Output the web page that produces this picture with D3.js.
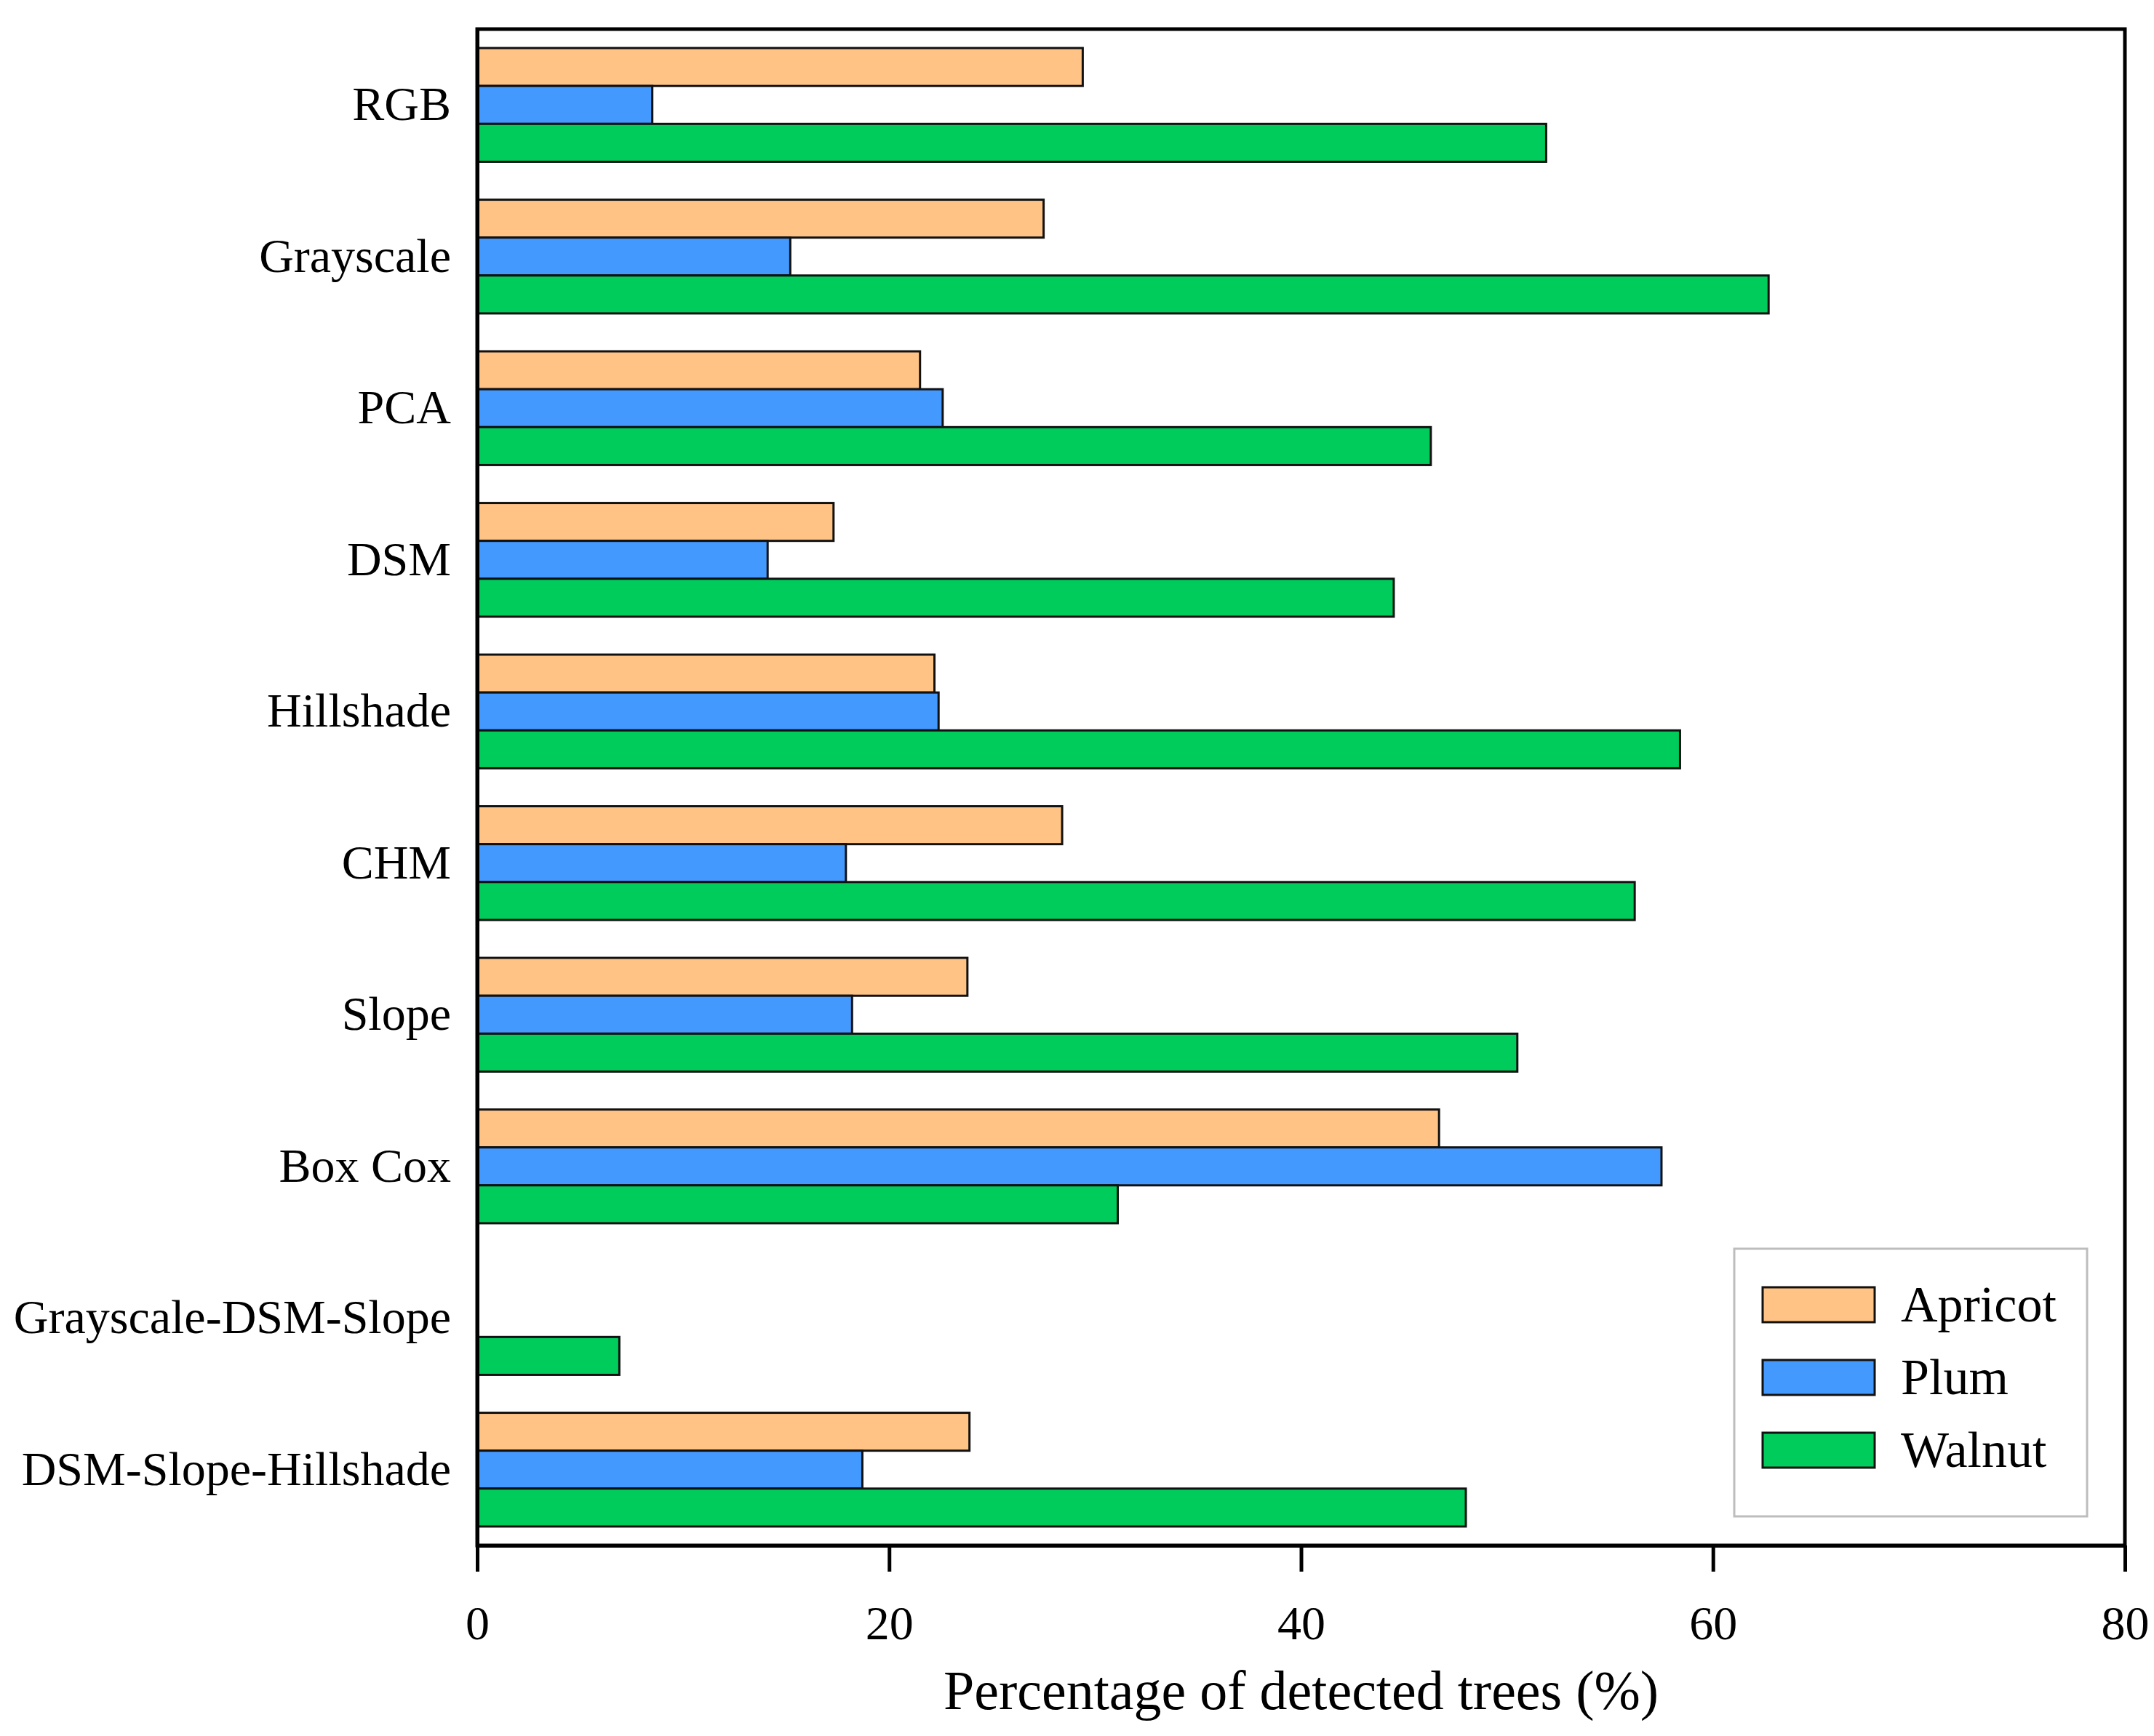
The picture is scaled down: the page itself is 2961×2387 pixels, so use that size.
<!DOCTYPE html>
<html>
<head>
<meta charset="utf-8">
<script src="https://cdn.jsdelivr.net/npm/d3@7"></script>
<style>
  body { margin: 0; background: #fff; }
  svg { display: block; font-family: "Liberation Serif", "DejaVu Serif", serif; }
</style>
</head>
<body>
<svg id="chart" width="2961" height="2387"></svg>
<script>
// data
const categories = ["RGB", "Grayscale", "PCA", "DSM", "Hillshade", "CHM", "Slope", "Box Cox", "Grayscale-DSM-Slope", "DSM-Slope-Hillshade"]
const seriesNames = ["Apricot", "Plum", "Walnut"]
const apricot = [29.4, 27.5, 21.5, 17.3, 22.2, 28.4, 23.8, 46.7, 0, 23.9]
const plum = [8.5, 15.2, 22.6, 14.1, 22.4, 17.9, 18.2, 57.5, 0, 18.7]
const walnut = [51.9, 62.7, 46.3, 44.5, 58.4, 56.2, 50.5, 31.1, 6.9, 48.0]
const xTicks = [0, 20, 40, 60, 80]
const colors = ["#ffc385", "#4499ff", "#00cc5c"]

const series = [apricot, plum, walnut]

let svg = d3.select("#chart")
const plotLeft = 656, plotRight = 2921, plotTop = 40, plotBottom = 2125

let x = d3.scaleLinear().domain([0, 80]).range([plotLeft, plotRight])
let y = d3.scaleBand().domain(categories).range([plotTop, plotBottom])
  .paddingInner(0.25).paddingOuter(0.125)
let ySub = d3.scaleBand().domain(seriesNames).range([0, y.bandwidth()])

// bars
let rows = []
categories.forEach((c, i) => {
  seriesNames.forEach((s, j) => {
    if (series[j][i] > 0) rows.push({ cat: c, name: s, value: series[j][i], color: colors[j] })
  })
})

svg.append("g").selectAll("rect")
  .data(rows)
  .enter()
  .append("rect")
  .attr("x", x(0))
  .attr("y", d => y(d.cat) + ySub(d.name))
  .attr("width", d => x(d.value) - x(0))
  .attr("height", ySub.bandwidth())
  .attr("fill", d => d.color)
  .attr("stroke", "#111")
  .attr("stroke-width", 3)

// frame
svg.append("rect")
  .attr("x", plotLeft).attr("y", plotTop)
  .attr("width", plotRight - plotLeft).attr("height", plotBottom - plotTop)
  .attr("fill", "none")
  .attr("stroke", "#000")
  .attr("stroke-width", 5)

// x axis
let xAxis = svg.append("g")
  .attr("transform", "translate(0," + plotBottom + ")")
  .call(d3.axisBottom(x).tickValues(xTicks).tickFormat(d3.format("d"))
    .tickSizeInner(36).tickSizeOuter(0).tickPadding(46))
xAxis.select(".domain").attr("stroke-width", 5)
xAxis.selectAll(".tick line").attr("stroke-width", 5)
xAxis.selectAll("text").attr("font-size", 66).attr("font-family", "Liberation Serif").attr("fill", "#000")

// y axis labels
let yAxis = svg.append("g")
  .attr("transform", "translate(" + plotLeft + ",0)")
  .call(d3.axisLeft(y).tickSize(0).tickPadding(36))
yAxis.select(".domain").attr("stroke-width", 5)
yAxis.selectAll("text").attr("font-size", 66).attr("font-family", "Liberation Serif").attr("fill", "#000")

// axis title
svg.append("text")
  .attr("x", (plotLeft + plotRight) / 2)
  .attr("y", 2350)
  .attr("text-anchor", "middle")
  .attr("font-size", 76)
  .text("Percentage of detected trees (%)")

// legend
let legend = svg.append("g")
legend.append("rect")
  .attr("x", 2384).attr("y", 1717)
  .attr("width", 485).attr("height", 368)
  .attr("fill", "#fff")
  .attr("stroke", "#bdbdbd")
  .attr("stroke-width", 3)

let items = legend.selectAll("g.item")
  .data(seriesNames)
  .enter()
  .append("g")
  .attr("transform", (d, i) => "translate(2423," + (1770 + i * 100) + ")")
items.append("rect")
  .attr("width", 154).attr("height", 48)
  .attr("fill", (d, i) => colors[i])
  .attr("stroke", "#111")
  .attr("stroke-width", 3)
items.append("text")
  .attr("x", 190)
  .attr("y", 47)
  .attr("font-size", 70)
  .text(d => d)
</script>
</body>
</html>
